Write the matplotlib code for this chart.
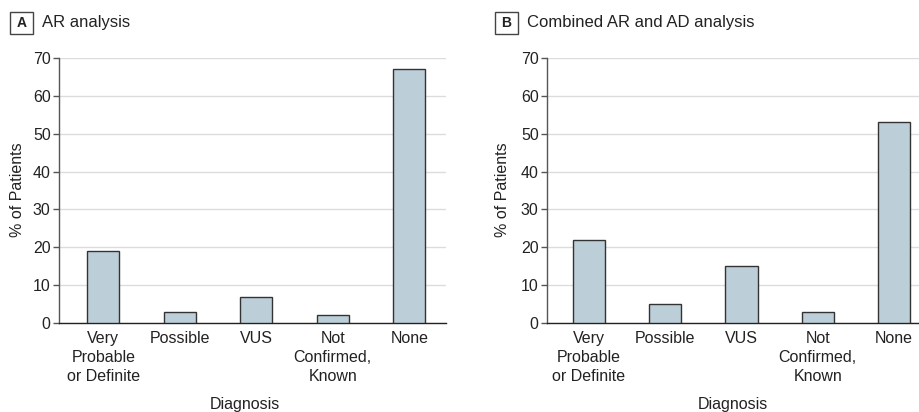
import matplotlib
matplotlib.use('Agg')
from matplotlib import pyplot as plt
from matplotlib.patches import Rectangle

categories = ['Very\nProbable\nor Definite', 'Possible', 'VUS', 'Not\nConfirmed,\nKnown', 'None']
ar_values = [19, 3, 7, 2, 67]
combined_values = [22, 5, 15, 3, 53]
y_ticks = [0, 10, 20, 30, 40, 50, 60, 70]

BAR_COLOR = '#bccfd8'
EDGE_COLOR = '#333333'
GRID_COLOR = '#dcdcdc'
TEXT_COLOR = '#222222'

plt.rcParams['font.family'] = ['Liberation Sans Narrow', 'Liberation Sans', 'DejaVu Sans']
plt.rcParams['font.size'] = 11


def draw_panel(fig, rect, values, xlim, letter, title, box_x, ylabel_x):
    ax = fig.add_axes(rect)
    x = list(range(len(values)))
    ax.bar(x, values, width=0.42, color=BAR_COLOR, edgecolor=EDGE_COLOR, linewidth=1.0, zorder=3)
    ax.set_xlim(*xlim)
    ax.set_ylim(0, 70)
    ax.set_yticks(y_ticks)
    ax.set_xticks(x)
    ax.set_xticklabels(categories, color=TEXT_COLOR, linespacing=1.3, fontsize=11.5)
    ax.tick_params(axis='x', length=0, pad=6)
    ax.tick_params(axis='y', length=4, width=1, color='#555555', pad=2, labelcolor=TEXT_COLOR, labelsize=11.5)
    ax.yaxis.grid(True, color=GRID_COLOR, linewidth=1, zorder=0)
    ax.set_axisbelow(True)
    for side in ['top', 'right']:
        ax.spines[side].set_visible(False)
    ax.spines['left'].set_color('#555555')
    ax.spines['bottom'].set_color('#222222')
    ax.spines['left'].set_linewidth(1)
    ax.spines['bottom'].set_linewidth(1)

    # y label and x label placed in figure coords
    fig.text(ylabel_x / 920, 1 - 190 / 412, '% of Patients', rotation=90, ha='center', va='center',
             fontsize=11.5, color=TEXT_COLOR)
    fig.text((rect[0] + (245 - 59) / 920), 1 - 405 / 412, 'Diagnosis', ha='center', va='center',
             fontsize=11.5, color=TEXT_COLOR)

    # panel letter box and title
    fig.patches.append(Rectangle((box_x / 920, 1 - 34 / 412), 23 / 920, 22 / 412,
                                 transform=fig.transFigure, fill=False, edgecolor='#444444', linewidth=1))
    fig.text((box_x + 11.5) / 920, 1 - 23 / 412, letter, ha='center', va='center',
             fontsize=10, fontweight='bold', color=TEXT_COLOR)
    fig.text((box_x + 32) / 920, 1 - 23 / 412, title, ha='left', va='center',
             fontsize=12, color=TEXT_COLOR)
    return ax


fig = plt.figure(figsize=(9.2, 4.12), dpi=100)
bottom = 1 - 323 / 412
height = (323 - 58) / 412
draw_panel(fig, [59 / 920, bottom, (446 - 59) / 920, height], ar_values, (-0.58, 4.48),
           'A', 'AR analysis', 10, 18)
draw_panel(fig, [547 / 920, bottom, (920 - 547) / 920, height], combined_values, (-0.55, 4.34),
           'B', 'Combined AR and AD analysis', 495, 503)

fig.savefig('out.png', dpi=100)
